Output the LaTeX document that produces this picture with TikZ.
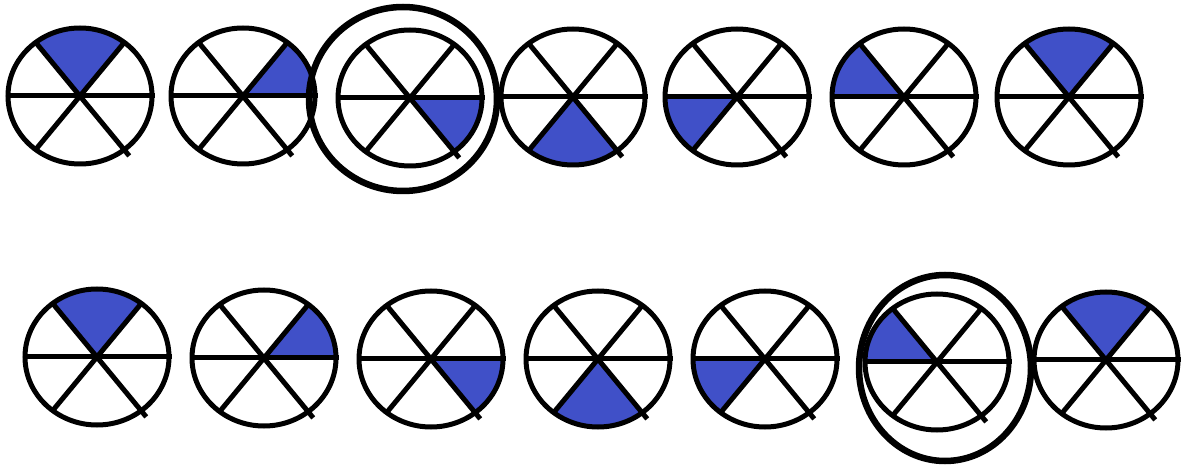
\documentclass[tikz,border=0pt]{standalone}
\definecolor{sectorblue}{RGB}{64,80,200}
\newcommand\mywheel[4]{%
  \begin{scope}[shift={(#1,#2)}]
    \fill[sectorblue] (0,0) -- (#3:72 and 68) arc[start angle=#3, end angle=#4, x radius=72, y radius=68] -- cycle;
    \draw[wheelline] (0,0) ellipse[x radius=72, y radius=68];
    \draw[wheelline] (-70,0) -- (75,0);
    \draw[wheelline] (128:72 and 68) -- (-52:80 and 76);
    \draw[wheelline] (52:72 and 68) -- (232:72 and 68);
  \end{scope}}
\begin{document}
\begin{tikzpicture}[x=1pt,y=1pt,
  wheelline/.style={line width=5pt, black},
  ring/.style={line width=6.5pt, black}]
\useasboundingbox (0,0) rectangle (1181,466);
% row 1
\mywheel{80}{370}{52}{128}
\mywheel{243}{370}{0}{52}
\mywheel{410}{368}{-52}{0}
\mywheel{573}{369}{-128}{-52}
\mywheel{737}{369}{180}{232}
\mywheel{904}{369}{128}{180}
\mywheel{1069}{369}{52}{128}
\draw[ring] (403,367) ellipse[x radius=94, y radius=92];
% row 2
\mywheel{97}{109}{52}{128}
\mywheel{264}{108}{0}{52}
\mywheel{431}{107}{-52}{0}
\mywheel{598}{107}{-128}{-52}
\mywheel{765}{107}{180}{232}
\mywheel{937}{104}{128}{180}
\mywheel{1106}{106}{52}{128}
\draw[ring] (945,98) ellipse[x radius=86, y radius=93];
\end{tikzpicture}
\end{document}
